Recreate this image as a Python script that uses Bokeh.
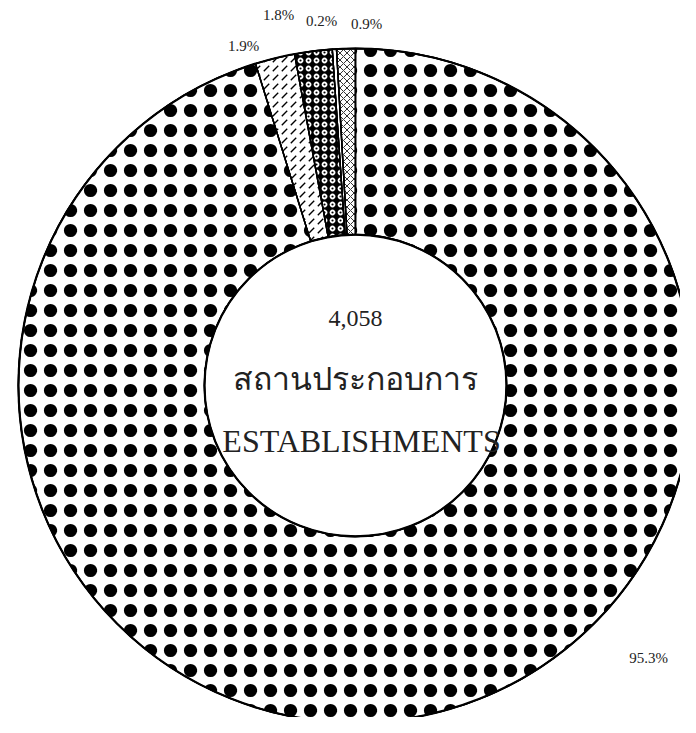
import math
from bokeh.plotting import figure
from bokeh.models import Range1d, ColumnDataSource
from bokeh.embed import file_html
from bokeh.resources import INLINE
from bokeh.core.properties import value

# ---- data ----
categories = ["net", "thin", "balls", "carets", "main"]
shares = [0.9, 0.2, 1.8, 1.9, 95.3]
share_labels = ["0.9%", "0.2%", "1.8%", "1.9%", "95.3%"]
total_label = "4,058"
thai_label = "สถานประกอบการ"
eng_label = "ESTABLISHMENTS"

# ---- layout (picture pixel coordinates) ----
W, H = 680, 717
CX, CY = 355, 385
R_OUT, R_IN = 337, 151
label_pos = [(366, 23), (321, 20), (278, 14), (243, 45), (648, 657)]


def py(y):
    return H - y


tot = sum(shares)
starts, ends = [], []
a = math.pi / 2
for s in shares:
    starts.append(a)
    a += 2 * math.pi * s / tot
    ends.append(a)

src = ColumnDataSource(dict(
    cat=categories,
    start=starts,
    end=ends,
    pattern=["diagonal_cross", " ", "ring", "right_diagonal_dash", "dot"],
    hscale=[7, 12, 8, 9, 20],
    hweight=[0.8, 1, 1.8, 1.3, 1],
    fill=["white", "white", "black", "white", "white"],
    hcolor=["black", "black", "white", "black", "black"],
))

p = figure(width=W, height=H, output_backend="svg", toolbar_location=None,
           x_range=Range1d(0, W), y_range=Range1d(0, H), min_border=0)
p.axis.visible = False
p.grid.visible = False
p.outline_line_color = None
p.background_fill_color = "white"

p.annular_wedge(x=CX, y=py(CY), inner_radius=R_IN, outer_radius=R_OUT,
                start_angle="start", end_angle="end", source=src,
                fill_color="fill", line_color="black", line_width=1.4,
                hatch_pattern="pattern", hatch_scale="hscale",
                hatch_weight="hweight", hatch_color="hcolor")
# second hatch layer on the large slice: ring around the dot -> solid blobs
p.annular_wedge(x=CX, y=py(CY), inner_radius=R_IN, outer_radius=R_OUT,
                start_angle=starts[-1], end_angle=ends[-1],
                fill_color=None, line_color=None,
                hatch_pattern="ring", hatch_scale=20, hatch_weight=3.2,
                hatch_color="black")
p.annular_wedge(x=CX, y=py(CY), inner_radius=R_IN, outer_radius=R_OUT,
                start_angle="start", end_angle="end", source=src,
                fill_color=None, line_color="black", line_width=1.4)
p.circle(x=[CX], y=[py(CY)], radius=R_OUT, fill_color=None,
         line_color="black", line_width=2.2)
p.circle(x=[CX], y=[py(CY)], radius=R_IN, fill_color=None,
         line_color="black", line_width=2.2)

serif = value("Liberation Serif")
p.text(x=[lp[0] for lp in label_pos], y=[py(lp[1]) for lp in label_pos],
       text=share_labels, text_font=serif, text_font_size="15px",
       text_align="center", text_baseline="middle", text_color="#222222")

p.text(x=[CX], y=[py(318)], text=[total_label], text_font=serif,
       text_font_size="24px", text_align="center", text_baseline="middle",
       text_color="#222222")
p.text(x=[CX], y=[py(378)], text=[thai_label], text_font=serif,
       text_font_size="32px", text_align="center", text_baseline="middle",
       text_color="#222222")
p.text(x=[CX + 6], y=[py(440)], text=[eng_label], text_font=serif,
       text_font_size="32px", text_align="center", text_baseline="middle",
       text_color="#222222")

open("out.html", "w").write(file_html(p, INLINE))
